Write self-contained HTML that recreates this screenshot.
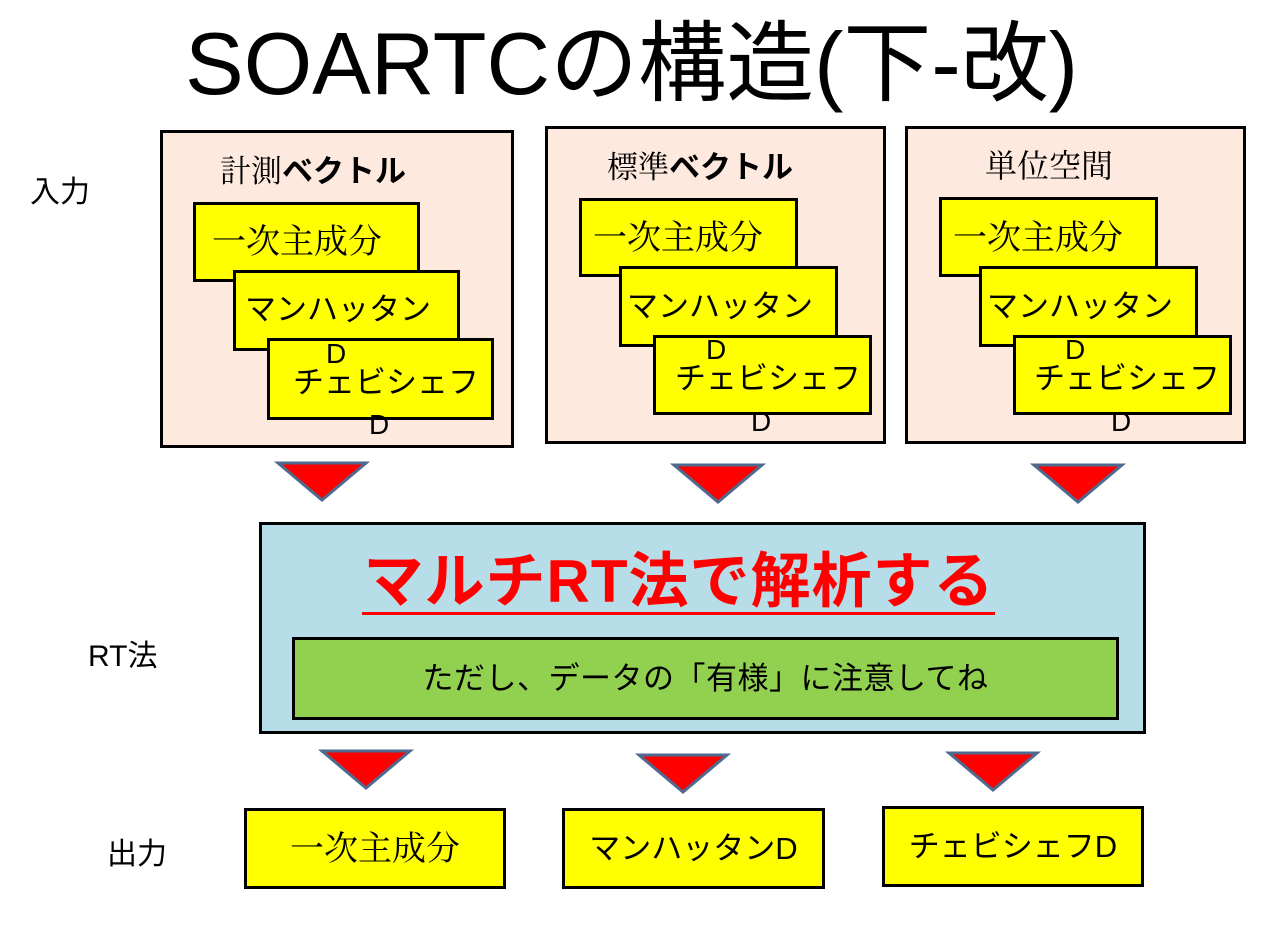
<!DOCTYPE html>
<html><head><meta charset="utf-8"><style>
body{margin:0;width:1276px;height:927px;background:#fff;position:relative;overflow:hidden;font-family:"Liberation Sans","Noto Sans CJK JP",sans-serif;}
.a{position:absolute;box-sizing:border-box;}
.pk{background:#fde9dd;border:3px solid #000;}
.y{background:#ffff00;border:3px solid #000;}
.t{position:absolute;white-space:nowrap;line-height:1;color:#000;}
.m{font-family:"Liberation Serif","Noto Serif CJK JP",serif;}
</style></head><body>
<div class="t" style="left:185px;top:20px;font-size:88px;">SOARTCの構造(下-改)</div>
<div class="t" style="left:30px;top:178px;font-size:30px;">入力</div>
<div class="t" style="left:88px;top:642px;font-size:30px;">RT法</div>
<div class="t" style="left:107px;top:840px;font-size:30px;">出力</div>

<div class="a pk" style="left:160px;top:130px;width:354px;height:318px;"></div>
<div class="t" style="left:220px;top:156px;font-size:31px;"><span class="m">計測</span><b>ベクトル</b></div>
<div class="a y" style="left:193px;top:202px;width:227px;height:80px;"></div>
<div class="t m" style="left:212px;top:226px;font-size:34px;">一次主成分</div>
<div class="a y" style="left:233px;top:270px;width:227px;height:81px;"></div>
<div class="t" style="left:245px;top:294px;font-size:31px;">マンハッタン</div>
<div class="a y" style="left:267px;top:338px;width:227px;height:82px;"></div>
<div class="t" style="left:326px;top:340px;font-size:28px;">D</div>
<div class="t" style="left:293px;top:367px;font-size:31px;">チェビシェフ</div>
<div class="t" style="left:369px;top:411px;font-size:28px;">D</div>

<div class="a pk" style="left:545px;top:126px;width:341px;height:318px;"></div>
<div class="t" style="left:607px;top:152px;font-size:31px;"><span class="m">標準</span><b>ベクトル</b></div>
<div class="a y" style="left:579px;top:198px;width:219px;height:79px;"></div>
<div class="t m" style="left:593px;top:222px;font-size:34px;">一次主成分</div>
<div class="a y" style="left:619px;top:266px;width:219px;height:81px;"></div>
<div class="t" style="left:627px;top:291px;font-size:31px;">マンハッタン</div>
<div class="a y" style="left:653px;top:335px;width:219px;height:80px;"></div>
<div class="t" style="left:706px;top:336px;font-size:28px;">D</div>
<div class="t" style="left:675px;top:363px;font-size:31px;">チェビシェフ</div>
<div class="t" style="left:751px;top:408px;font-size:28px;">D</div>

<div class="a pk" style="left:905px;top:126px;width:341px;height:318px;"></div>
<div class="t m" style="left:985px;top:150px;font-size:32px;">単位空間</div>
<div class="a y" style="left:939px;top:197px;width:219px;height:80px;"></div>
<div class="t m" style="left:953px;top:222px;font-size:34px;">一次主成分</div>
<div class="a y" style="left:979px;top:266px;width:219px;height:81px;"></div>
<div class="t" style="left:987px;top:291px;font-size:31px;">マンハッタン</div>
<div class="a y" style="left:1013px;top:335px;width:219px;height:80px;"></div>
<div class="t" style="left:1065px;top:336px;font-size:28px;">D</div>
<div class="t" style="left:1034px;top:363px;font-size:31px;">チェビシェフ</div>
<div class="t" style="left:1111px;top:408px;font-size:28px;">D</div>

<svg class="a" style="left:0;top:0;" width="1276" height="927">
<g fill="#ff0000" stroke="#4f6a8f" stroke-width="3">
<polygon points="278,463 366,463 322,500"/>
<polygon points="674,465 762,465 718,502"/>
<polygon points="1034,465 1122,465 1078,502"/>
<polygon points="322,751 410,751 366,788"/>
<polygon points="639,755 727,755 683,792"/>
<polygon points="949,753 1037,753 993,790"/>
</g></svg>

<div class="a" style="left:259px;top:522px;width:887px;height:212px;background:#b7dde8;border:3px solid #000;"></div>
<div class="t" style="left:362px;top:552px;width:634px;text-align:center;font-size:60px;font-weight:bold;color:#ff0000;letter-spacing:1px;">マルチRT法で解析する</div>
<div class="a" style="left:362px;top:612px;width:633px;height:3px;background:#ff0000;"></div>
<div class="a" style="left:292px;top:637px;width:827px;height:83px;background:#92d050;border:3px solid #000;"></div>
<div class="t" style="left:292px;top:663px;width:827px;text-align:center;font-size:31px;letter-spacing:0.5px;">ただし、データの「有様」に注意してね</div>

<div class="a y" style="left:244px;top:808px;width:262px;height:81px;"></div>
<div class="t m" style="left:244px;top:833px;width:262px;text-align:center;font-size:34px;">一次主成分</div>
<div class="a y" style="left:562px;top:808px;width:263px;height:81px;"></div>
<div class="t" style="left:562px;top:833px;width:263px;text-align:center;font-size:31px;">マンハッタンD</div>
<div class="a y" style="left:882px;top:806px;width:262px;height:81px;"></div>
<div class="t" style="left:882px;top:831px;width:262px;text-align:center;font-size:31px;">チェビシェフD</div>
</body></html>
